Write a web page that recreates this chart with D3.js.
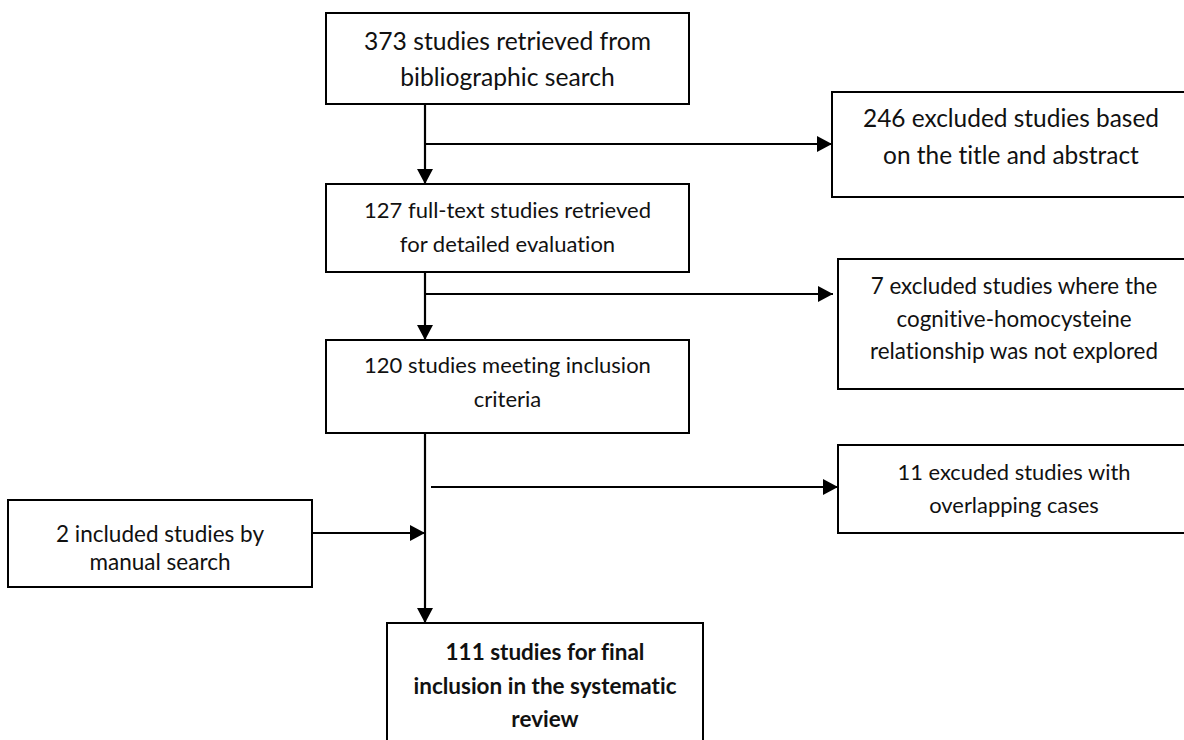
<!DOCTYPE html>
<html>
<head>
<meta charset="utf-8">
<script src="https://cdn.jsdelivr.net/npm/d3@7"></script>
<style>
  html, body { margin: 0; padding: 0; background: #fff; }
  svg { display: block; }
  text { font-family: Lato, "Open Sans", "Noto Sans", sans-serif; fill: #111;
         font-variant-ligatures: none; font-feature-settings: "liga" 0, "clig" 0; }
</style>
</head>
<body>
<svg id="chart" width="1184" height="740"></svg>
<script>
// ---- Data: flow diagram steps (text) ----
const stepIds = ["search", "excl1", "fulltext", "excl2", "meeting", "excl3", "manual", "final"];
const stepLines = [
  ["373 studies retrieved from", "bibliographic search"],
  ["246 excluded studies based", "on the title and abstract"],
  ["127 full-text studies retrieved", "for detailed evaluation"],
  ["7 excluded studies where the", "cognitive-homocysteine", "relationship was not explored"],
  ["120 studies meeting inclusion", "criteria"],
  ["11 excuded studies with", "overlapping cases"],
  ["2 included studies by", "manual search"],
  ["111 studies for final", "inclusion in the systematic", "review"]
];
const stepCounts = [373, 246, 127, 7, 120, 11, 2, 111];
const boldSteps = ["final"];
// connections: [from, to, kind]
const links = [
  ["search", "fulltext", "down"],
  ["search", "excl1", "branch"],
  ["fulltext", "meeting", "down"],
  ["fulltext", "excl2", "branch"],
  ["meeting", "final", "down"],
  ["meeting", "excl3", "branch"],
  ["manual", "final", "join"]
];

// ---- Layout (positions / sizes / styles) ----
const layout = {
  search:   {x: 326, y: 13,  w: 363, h: 91,  base: 50,  gap: 36,   fit: 287, fitLine: 0},
  excl1:    {x: 832, y: 92,  w: 358, h: 105, base: 127, gap: 37,   fit: 296, fitLine: 0, branchY: 144},
  fulltext: {x: 326, y: 184, w: 363, h: 88,  base: 218, gap: 34,   fit: 287, fitLine: 0},
  excl2:    {x: 838, y: 259, w: 352, h: 130, base: 294, gap: 32.5, fit: 288, fitLine: 2, branchY: 294, tipGap: 5},
  meeting:  {x: 326, y: 340, w: 363, h: 93,  base: 373, gap: 34,   fit: 287, fitLine: 0},
  excl3:    {x: 838, y: 445, w: 352, h: 88,  base: 480, gap: 33,   fit: 233, fitLine: 0, branchY: 487, startGap: 6},
  manual:   {x: 8,   y: 500, w: 304, h: 87,  base: 542, gap: 28,   fit: 141, fitLine: 1, joinY: 533},
  final:    {x: 387, y: 623, w: 316, h: 140, base: 660, gap: 33.5, fit: 263, fitLine: 1}
};
const spineX = 425;

const svg = d3.select("#chart");

svg.append("defs").append("marker")
  .attr("id", "arrow")
  .attr("markerUnits", "userSpaceOnUse")
  .attr("viewBox", "0 0 15 16")
  .attr("refX", 15).attr("refY", 8)
  .attr("markerWidth", 15).attr("markerHeight", 16)
  .attr("orient", "auto")
  .append("path")
  .attr("d", "M0,0 L15,8 L0,16 Z")
  .attr("fill", "#000");

const steps = stepIds.map((id, i) => ({
  id, lines: stepLines[i], count: stepCounts[i], bold: boldSteps.includes(id), ...layout[id]
}));
const byId = Object.fromEntries(steps.map(s => [s.id, s]));

// connectors
const line = d3.line();
const connG = svg.append("g");
links.forEach(([from, to, kind]) => {
  const a = byId[from], b = byId[to];
  let pts;
  if (kind === "down") {
    pts = [[spineX, a.y + a.h], [spineX, b.y]];
  } else if (kind === "branch") {
    const x0 = spineX + (b.startGap || 0);
    pts = [[x0, b.branchY], [b.x - (b.tipGap || 0), b.branchY]];
  } else {
    pts = [[a.x + a.w, a.joinY], [spineX, a.joinY]];
  }
  connG.append("path")
    .attr("d", line(pts))
    .attr("fill", "none")
    .attr("stroke", "#000")
    .attr("stroke-width", 2.2)
    .attr("marker-end", "url(#arrow)");
});

// boxes
const boxG = svg.selectAll("g.step").data(steps).join("g").attr("class", "step");
boxG.append("rect")
  .attr("x", d => d.x).attr("y", d => d.y)
  .attr("width", d => d.w).attr("height", d => d.h)
  .attr("fill", "#fff")
  .attr("stroke", "#000")
  .attr("stroke-width", 2);

boxG.each(function(d) {
  const g = d3.select(this);
  const cx = d.x + d.w / 2;
  const texts = g.selectAll("text").data(d.lines).join("text")
    .attr("x", cx)
    .attr("y", (t, i) => d.base + i * d.gap)
    .attr("text-anchor", "middle")
    .attr("font-weight", d.bold ? 700 : 400)
    .attr("font-size", 20)
    .text(t => t);
  const measured = texts.nodes()[d.fitLine].getComputedTextLength();
  const fs = 20 * d.fit / measured;
  texts.attr("font-size", fs.toFixed(2));
});
</script>
</body>
</html>
